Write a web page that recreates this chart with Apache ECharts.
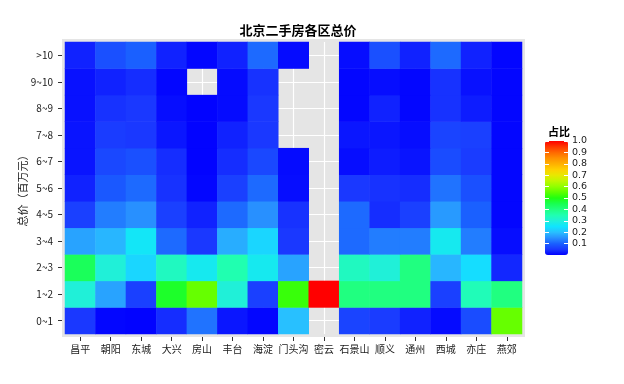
<!DOCTYPE html>
<html>
<head>
<meta charset="utf-8">
<script src="https://cdn.jsdelivr.net/npm/echarts@6/dist/echarts.min.js"></script>
<style>html,body{margin:0;padding:0;background:#fff}#c{width:624px;height:384px}</style>
</head>
<body>
<div id="c"></div>
<script>
// Districts (x axis)
const districts = ['昌平','朝阳','东城','大兴','房山','丰台','海淀','门头沟','密云','石景山','顺义','通州','西城','亦庄','燕郊'];
// Price bins (y axis, bottom to top)
const priceBins = ['0~1','1~2','2~3','3~4','4~5','5~6','6~7','7~8','8~9','9~10','>10'];
// Share of listings per district in each price bin (null = no data)
const bin0_1   = [0.05,0.005,0.003,0.04,0.12,0.02,0.005,0.2,null,0.065,0.055,0.03,0.01,0.075,0.56];
const bin1_2   = [0.3,0.17,0.06,0.48,0.56,0.3,0.06,0.52,1.0,0.4,0.4,0.4,0.06,0.34,0.4];
const bin2_3   = [0.44,0.3,0.23,0.33,0.27,0.35,0.27,0.17,null,0.33,0.3,0.4,0.19,0.24,0.035];
const bin3_4   = [0.17,0.19,0.26,0.11,0.05,0.18,0.23,0.05,null,0.11,0.13,0.13,0.27,0.13,0.012];
const bin4_5   = [0.06,0.13,0.15,0.06,0.03,0.11,0.15,0.045,null,0.11,0.04,0.06,0.16,0.1,0.005];
const bin5_6   = [0.03,0.09,0.11,0.045,0.005,0.06,0.11,0.012,null,0.05,0.045,0.04,0.12,0.08,0.005];
const bin6_7   = [0.018,0.07,0.08,0.04,0.003,0.04,0.07,0.01,null,0.012,0.025,0.018,0.075,0.055,0.005];
const bin7_8   = [0.018,0.055,0.05,0.02,0.003,0.03,0.05,null,null,0.02,0.02,0.012,0.065,0.06,0.005];
const bin8_9   = [0.015,0.045,0.05,0.012,0.003,0.01,0.05,null,null,0.005,0.03,0.005,0.045,0.025,0.005];
const bin9_10  = [0.015,0.03,0.04,0.005,null,0.01,0.045,null,null,0.005,0.012,0.005,0.045,0.015,0.005];
const bin10up  = [0.03,0.08,0.1,0.03,0.005,0.03,0.11,0.01,null,0.012,0.08,0.03,0.11,0.03,0.005];
const binRows = [bin0_1,bin1_2,bin2_3,bin3_4,bin4_5,bin5_6,bin6_7,bin7_8,bin8_9,bin9_10,bin10up];
// Legend tick labels
const legendTicks = [0.1,0.2,0.3,0.4,0.5,0.6,0.7,0.8,0.9,1.0];
const rampColors = ['#0000ff','#1a38ff','#1a60ff','#2890ff','#28c0ff','#10e4ff','#20f0d8','#20ffb0','#20ff80','#18ff50','#20ff10','#5cff00','#90ff00','#c0f800','#e8e800','#ffd000','#ffb000','#ff9000','#ff6800','#ff3800','#ff0000'];

const data = [];
binRows.forEach((row, yi) => row.forEach((v, xi) => { if (v !== null) data.push([xi, yi, v]); }));

const font = '"Noto Sans CJK SC","Noto Sans",sans-serif';
const txt = '#1a1a1a';
const chart = echarts.init(document.getElementById('c'), null, {renderer: 'canvas'});
chart.setOption({
  animation: false,
  backgroundColor: '#fff',
  title: [
    {text: '北京二手房各区总价', left: 293, top: 19, textAlign: 'center',
     textStyle: {fontFamily: font, fontSize: 13, fontWeight: 'bold', color: '#000'}},
    {text: '占比', left: 543, top: 121,
     textStyle: {fontFamily: font, fontSize: 11, fontWeight: 'bold', color: '#000'}}
  ],
  grid: [
    {left: 65, top: 42, width: 457, height: 292, show: false},
    {left: 62, top: 39, width: 463, height: 298, show: true, backgroundColor: '#e5e5e5', borderWidth: 0, z: -1},
    {left: 545, top: 141, width: 23, height: 114, show: false}
  ],
  xAxis: [
    {type: 'category', gridIndex: 0, data: districts, offset: 3,
     axisLine: {show: false},
     axisTick: {show: true, alignWithLabel: true, length: 4, lineStyle: {color: '#333', width: 1}},
     axisLabel: {interval: 0, margin: 7, fontFamily: font, fontSize: 10, color: txt},
     splitLine: {show: true, alignWithLabel: true, lineStyle: {color: '#fff', width: 1.2}}},
    {type: 'value', gridIndex: 1, show: false, min: 0, max: 1},
    {type: 'value', gridIndex: 2, show: false, min: 0, max: 1}
  ],
  yAxis: [
    {type: 'category', gridIndex: 0, data: priceBins, offset: 3,
     name: '总价（百万元）', nameLocation: 'middle', nameGap: 34, nameMoveOverlap: false,
     nameTextStyle: {fontFamily: font, fontSize: 11, color: txt},
     axisLine: {show: false},
     axisTick: {show: true, alignWithLabel: true, length: 4, lineStyle: {color: '#333', width: 1}},
     axisLabel: {interval: 0, margin: 9, fontFamily: font, fontSize: 10, color: txt},
     splitLine: {show: true, alignWithLabel: true, lineStyle: {color: '#fff', width: 1.2}}},
    {type: 'value', gridIndex: 1, show: false, min: 0, max: 1},
    {type: 'value', gridIndex: 2, min: 0, max: 1, position: 'left', z: 10,
     axisLine: {show: false}, splitLine: {show: false}, axisLabel: {show: false},
     axisTick: {show: true, inside: true, length: 4, customValues: legendTicks, lineStyle: {color: '#fff', width: 1}}},
    {type: 'value', gridIndex: 2, min: 0, max: 1, position: 'right', z: 10,
     axisLine: {show: false}, splitLine: {show: false},
     axisTick: {show: true, inside: true, length: 4, customValues: legendTicks, lineStyle: {color: '#fff', width: 1}},
     axisLabel: {show: true, customValues: legendTicks, margin: 4, fontFamily: '"DejaVu Sans",sans-serif', fontSize: 9.5, color: txt,
                 formatter: v => v.toFixed(1)}}
  ],
  visualMap: {
    type: 'continuous', seriesIndex: 0, min: 0, max: 1, calculable: false,
    orient: 'vertical', left: 540, top: 136, itemWidth: 23, itemHeight: 114,
    padding: 5, inRange: {color: rampColors}, textStyle: {color: txt}
  },
  series: [{
    type: 'heatmap', xAxisIndex: 0, yAxisIndex: 0, data: data,
    itemStyle: {borderWidth: 0}, emphasis: {disabled: true}
  }]
});
</script>
</body>
</html>
